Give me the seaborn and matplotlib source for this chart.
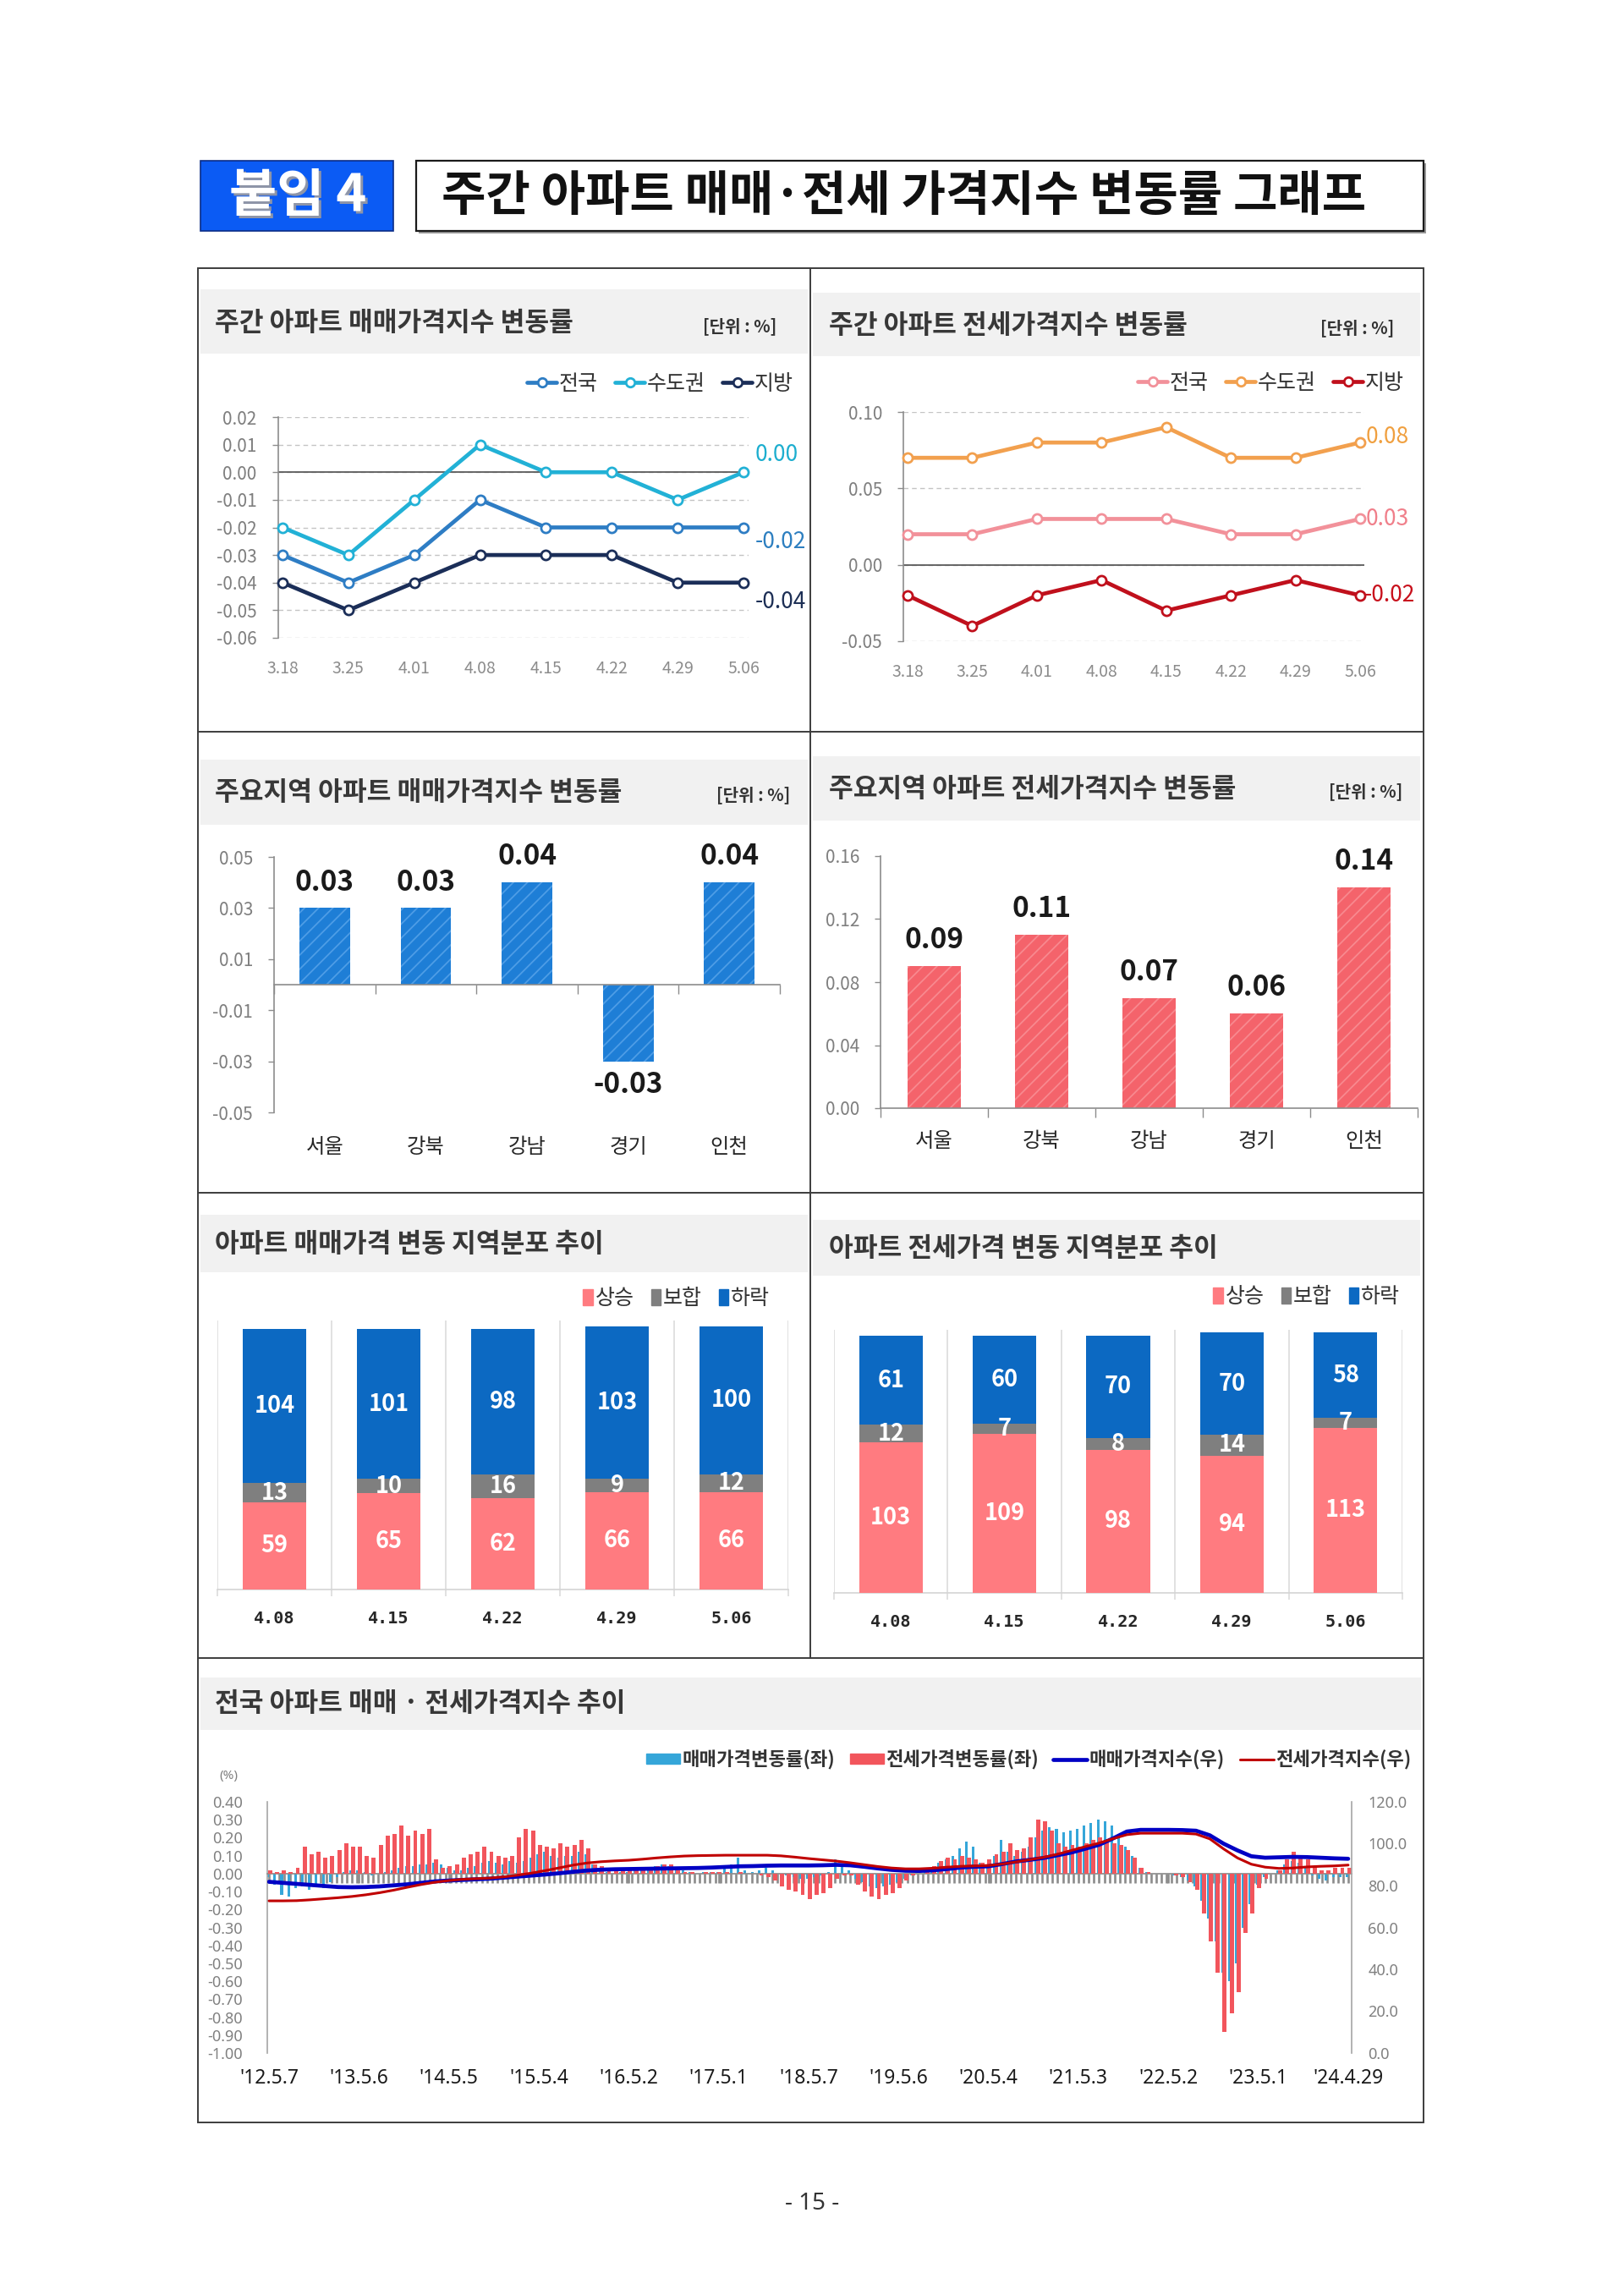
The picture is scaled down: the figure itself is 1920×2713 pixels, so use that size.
import numpy as np
import matplotlib
matplotlib.use('Agg')
import matplotlib.pyplot as plt
import seaborn as sns
from matplotlib.patches import Rectangle, Patch
from matplotlib.lines import Line2D
from matplotlib.ticker import FixedLocator, MultipleLocator, FormatStrFormatter
from matplotlib.font_manager import FontProperties

sns.set_theme(style='white')
plt.rcParams['font.family'] = ['Noto Sans CJK KR', 'DejaVu Sans']
plt.rcParams['axes.unicode_minus'] = False
plt.rcParams['hatch.linewidth'] = 1.3

KR = ['Noto Sans CJK KR', 'DejaVu Sans']
NUM = ['Liberation Sans Narrow', 'Noto Sans CJK KR', 'DejaVu Sans']
NS = ['Noto Sans', 'DejaVu Sans']
MONO = ['DejaVu Sans Mono', 'DejaVu Sans']

# ---------------- data ----------------
weeks = ['3.18', '3.25', '4.01', '4.08', '4.15', '4.22', '4.29', '5.06']
series_names = ['전국', '수도권', '지방']
sale_nation = [-0.03, -0.04, -0.03, -0.01, -0.02, -0.02, -0.02, -0.02]
sale_capital = [-0.02, -0.03, -0.01, 0.01, 0.00, 0.00, -0.01, 0.00]
sale_local = [-0.04, -0.05, -0.04, -0.03, -0.03, -0.03, -0.04, -0.04]
jeonse_nation = [0.02, 0.02, 0.03, 0.03, 0.03, 0.02, 0.02, 0.03]
jeonse_capital = [0.07, 0.07, 0.08, 0.08, 0.09, 0.07, 0.07, 0.08]
jeonse_local = [-0.02, -0.04, -0.02, -0.01, -0.03, -0.02, -0.01, -0.02]

regions = ['서울', '강북', '강남', '경기', '인천']
region_sale = [0.03, 0.03, 0.04, -0.03, 0.04]
region_jeonse = [0.09, 0.11, 0.07, 0.06, 0.14]

dist_weeks = ['4.08', '4.15', '4.22', '4.29', '5.06']
dist_names = ['상승', '보합', '하락']
sale_up = [59, 65, 62, 66, 66]
sale_flat = [13, 10, 16, 9, 12]
sale_down = [104, 101, 98, 103, 100]
jeonse_up = [103, 109, 98, 94, 113]
jeonse_flat = [12, 7, 8, 14, 7]
jeonse_down = [61, 60, 70, 70, 58]

long_labels = ["'12.5.7", "'13.5.6", "'14.5.5", "'15.5.4", "'16.5.2", "'17.5.1", "'18.5.7",
               "'19.5.6", "'20.5.4", "'21.5.3", "'22.5.2", "'23.5.1", "'24.4.29"]
long_names = ['매매가격변동률(좌)', '전세가격변동률(좌)', '매매가격지수(우)', '전세가격지수(우)']
rate_step = 4   # weeks between rate samples
idx_step = 8    # weeks between index samples
label_step = 52

# weekly change rate (%) sampled every 4 weeks from '12.5.7
sale_rate = [
    -0.02, -0.06, -0.12, -0.13, -0.08, -0.07, -0.09, -0.06, -0.08, -0.05, -0.02, 0.01, 0.02,
    0.02, 0.01, -0.01, 0.00, 0.01, 0.02, 0.03, 0.04, 0.04, 0.05, 0.05, 0.06, 0.05,
    0.03, 0.02, 0.02, 0.03, 0.04, 0.06, 0.07, 0.06, 0.05, 0.07, 0.06, 0.07, 0.09,
    0.11, 0.12, 0.10, 0.09, 0.10, 0.10, 0.12, 0.11, 0.05, 0.02, 0.01, 0.00, 0.01,
    0.01, 0.02, 0.02, 0.03, 0.04, 0.05, 0.04, 0.03, 0.02, 0.01, 0.00, 0.01, 0.01,
    0.01, 0.04, 0.05, 0.09, 0.02, 0.01, 0.02, 0.03, 0.02, 0.00, -0.01, -0.02, -0.03,
    -0.03, -0.02, -0.01, 0.01, 0.08, 0.05, 0.02, -0.03, -0.05, -0.07, -0.08, -0.07, -0.06,
    -0.05, -0.03, -0.01, 0.00, 0.01, 0.03, 0.06, 0.08, 0.10, 0.14, 0.18, 0.15, 0.06,
    0.05, 0.10, 0.19, 0.12, 0.10, 0.12, 0.15, 0.20, 0.24, 0.26, 0.25, 0.23, 0.24,
    0.25, 0.27, 0.28, 0.30, 0.29, 0.27, 0.22, 0.15, 0.10, 0.03, 0.01, 0.00, 0.00,
    0.00, -0.01, -0.02, -0.04, -0.07, -0.15, -0.25, -0.38, -0.55, -0.60, -0.50, -0.30, -0.17,
    -0.06, -0.02, 0.00, 0.02, 0.05, 0.07, 0.06, 0.03, -0.01, -0.03, -0.04, -0.02, -0.02, -0.02,
]
jeonse_rate = [
    0.02, 0.01, 0.02, 0.01, 0.03, 0.15, 0.11, 0.12, 0.09, 0.10, 0.13, 0.17, 0.15,
    0.15, 0.10, 0.09, 0.16, 0.21, 0.22, 0.27, 0.21, 0.24, 0.22, 0.25, 0.08, 0.03,
    0.04, 0.05, 0.09, 0.11, 0.12, 0.15, 0.12, 0.10, 0.09, 0.10, 0.20, 0.25, 0.24,
    0.16, 0.15, 0.14, 0.17, 0.15, 0.16, 0.19, 0.14, 0.05, 0.04, 0.03, 0.03, 0.02,
    0.02, 0.02, 0.02, 0.03, 0.04, 0.05, 0.05, 0.02, 0.01, 0.01, 0.00, 0.01, 0.01,
    0.01, 0.01, 0.00, 0.01, 0.00, 0.00, -0.01, -0.02, -0.04, -0.07, -0.09, -0.10, -0.12,
    -0.14, -0.12, -0.11, -0.08, -0.03, -0.01, -0.01, -0.06, -0.10, -0.13, -0.14, -0.12, -0.11,
    -0.08, -0.04, -0.01, 0.00, 0.01, 0.04, 0.07, 0.09, 0.08, 0.10, 0.09, 0.08, 0.06,
    0.08, 0.11, 0.12, 0.17, 0.13, 0.14, 0.20, 0.30, 0.29, 0.24, 0.17, 0.15, 0.16,
    0.15, 0.17, 0.19, 0.20, 0.18, 0.17, 0.16, 0.13, 0.09, 0.03, 0.01, 0.00, 0.00,
    0.00, -0.01, -0.02, -0.05, -0.09, -0.22, -0.38, -0.55, -0.88, -0.78, -0.66, -0.33, -0.22,
    -0.08, -0.03, 0.00, 0.02, 0.08, 0.12, 0.10, 0.08, 0.03, 0.02, 0.02, 0.03, 0.03, 0.03,
]
# price index sampled every 8 weeks
sale_idx = [
    81.8, 81.3, 80.8, 80.3, 79.8, 79.3, 79.2, 79.3, 79.6, 80.1, 80.6, 81.3, 82.0,
    82.4, 82.7, 83.0, 83.3, 83.8, 84.3, 84.8, 85.3, 85.9, 86.6, 87.2, 87.6, 87.8,
    87.9, 88.0, 88.1, 88.2, 88.3, 88.4, 88.6, 88.9, 89.2, 89.3, 89.5, 89.6, 89.6,
    89.6, 89.7, 89.9, 89.7, 89.0, 88.2, 87.5, 87.1, 87.0, 87.3, 87.9, 88.6, 89.0,
    89.2, 90.3, 91.5, 92.3, 93.2, 94.5, 95.8, 97.6, 99.5, 102.5, 105.8, 106.6, 106.6,
    106.6, 106.5, 106.2, 104.0, 100.0, 96.8, 94.0, 93.3, 93.5, 93.7, 93.6, 93.3, 93.0,
    92.8,
]
jeonse_idx = [
    72.7, 72.7, 72.8, 73.2, 73.7, 74.2, 74.8, 75.6, 76.6, 77.8, 79.2, 80.5, 81.6,
    82.4, 83.0, 83.3, 83.6, 84.2, 85.0, 86.0, 87.2, 88.5, 89.8, 90.8, 91.4, 91.8,
    92.1, 92.6, 93.2, 93.7, 94.1, 94.3, 94.4, 94.5, 94.5, 94.5, 94.5, 94.2, 93.6,
    92.9, 92.3, 91.7, 90.9, 90.0, 89.1, 88.4, 88.0, 88.0, 88.3, 88.8, 89.2, 89.4,
    89.6, 90.3, 91.3, 92.4, 93.5, 95.0, 96.8, 98.6, 100.3, 102.4, 104.3, 105.0, 105.0,
    105.0, 105.0, 104.6, 102.3, 97.5, 93.2, 90.2, 88.8, 88.2, 88.4, 88.9, 89.2, 89.4,
    89.8,
]

# ---------------- figure ----------------
W, H = 1920, 2713
fig = plt.figure(figsize=(W / 100, H / 100), dpi=100)
fig.patch.set_facecolor('white')


def px_rect(x0, y0, x1, y1):
    return [x0 / W, 1 - y1 / H, (x1 - x0) / W, (y1 - y0) / H]


def fpt(x, y):
    return (x / W, 1 - y / H)


def style_labels(labels, family, **kw):
    for t in labels:
        t.set_fontfamily(family)
        for k, v in kw.items():
            getattr(t, 'set_' + k)(v)


bg = fig.add_axes([0, 0, 1, 1])
bg.set_xlim(0, W)
bg.set_ylim(H, 0)
bg.axis('off')

# header
bg.add_patch(Rectangle((237, 190), 228, 83, fc='#0B5BF4', ec='#0A2C86', lw=1.2))
bg.text(355, 235, '붙임 4', ha='center', va='center', fontsize=44, fontweight='bold',
        color='#8E95A8', family=KR)
bg.text(352, 232, '붙임 4', ha='center', va='center', fontsize=44, fontweight='bold',
        color='white', family=KR)
bg.add_patch(Rectangle((495, 193), 1191, 83, fc='#9a9a9a', ec='none'))
bg.add_patch(Rectangle((492, 190), 1191, 83, fc='white', ec='#1a1a1a', lw=1.6))
bg.text(1069, 232, '주간 아파트 매매·전세 가격지수 변동률 그래프', ha='center', va='center',
        fontsize=41, fontweight='bold', color='#111111', family=KR)

# frame
bg.add_patch(Rectangle((234, 317), 1449, 2192, fill=False, ec='#3c3c3c', lw=1.4))
bg.plot([958, 958], [317, 1960], color='#3c3c3c', lw=1.4)
for yy in (865, 1410, 1960):
    bg.plot([234, 1683], [yy, yy], color='#3c3c3c', lw=1.4)

bands = [(237, 342, 955, 418), (961, 346, 1679, 421), (237, 898, 955, 975), (961, 894, 1679, 970),
         (237, 1436, 955, 1504), (961, 1442, 1679, 1508), (237, 1983, 1680, 2045)]
for x0, y0, x1, y1 in bands:
    bg.add_patch(Rectangle((x0, y0), x1 - x0, y1 - y0, fc='#F1F1F1', ec='none'))

titles = [(254, 382, '주간 아파트 매매가격지수 변동률'), (980, 385, '주간 아파트 전세가격지수 변동률'),
          (254, 937, '주요지역 아파트 매매가격지수 변동률'), (980, 933, '주요지역 아파트 전세가격지수 변동률'),
          (254, 1471, '아파트 매매가격 변동 지역분포 추이'), (980, 1476, '아파트 전세가격 변동 지역분포 추이'),
          (254, 2014, '전국 아파트 매매 · 전세가격지수 추이')]
for x, y, t in titles:
    bg.text(x, y, t, ha='left', va='center', fontsize=22.5, fontweight='bold', color='#383838', family=KR)
for x, y in [(918, 386), (1648, 388), (934, 940), (1658, 936)]:
    bg.text(x, y, '[단위 : %]', ha='right', va='center', fontsize=14.5, fontweight='bold',
            color='#333333', family=KR)

bg.text(270, 2099, '(%)', ha='center', va='center', fontsize=11, color='#808080', family=NS)
bg.text(960, 2605, '- 15 -', ha='center', va='center', fontsize=20, color='#333333', family=NS)


# ---------------- line panels ----------------
def line_panel(box, xlim, ylim, yticks, vals_list, colors, label_colors, offsets, leg_xy):
    ax = fig.add_axes(px_rect(*box))
    ax.set_facecolor('none')
    xs = np.arange(len(weeks))
    for vals, c in zip(vals_list, colors):
        sns.lineplot(x=xs, y=vals, ax=ax, color=c, lw=3.4, marker='o', markersize=8,
                     markerfacecolor='white', markeredgecolor=c, markeredgewidth=2,
                     clip_on=False, zorder=4)
    ax.set_xlim(*xlim)
    ax.set_ylim(*ylim)
    ax.set_yticks(yticks)
    ax.yaxis.set_major_formatter(FormatStrFormatter('%.2f'))
    ax.set_xticks(xs, weeks)
    ax.set_xlabel('')
    ax.set_ylabel('')
    ax.grid(True, axis='y', color='#c4c4c4', lw=1.0, linestyle=(0, (4, 3)))
    ax.grid(False, axis='x')
    ax.axhline(0, color='#5a5a5a', lw=1.3, zorder=2)
    for s in ['top', 'right', 'bottom']:
        ax.spines[s].set_visible(False)
    ax.spines['left'].set_color('#8c8c8c')
    ax.spines['left'].set_linewidth(1.2)
    ax.tick_params(axis='y', left=True, length=5, width=1, color='#8c8c8c', pad=13,
                   labelsize=15, labelcolor='#7f7f7f')
    ax.tick_params(axis='x', bottom=False, length=0, pad=19, labelsize=14, labelcolor='#8c8c8c')
    style_labels(ax.get_xticklabels() + ax.get_yticklabels(), NUM)
    for vals, lc, (dx, dy) in zip(vals_list, label_colors, offsets):
        ax.annotate(f'{vals[-1]:.2f}', xy=(len(vals) - 1, vals[-1]), xytext=(dx, dy),
                    textcoords='offset points', ha='left', va='center', fontsize=19,
                    color=lc, family=NUM, annotation_clip=False)
    handles = [Line2D([], [], color=c, lw=3.4, marker='o', ms=7.5, mfc='white', mec=c, mew=2)
               for c in colors]
    fig.legend(handles, series_names, loc='center right', bbox_to_anchor=fpt(*leg_xy), ncol=3,
               frameon=False, prop=FontProperties(family=KR, size=18), labelcolor='#333333',
               handlelength=1.4, handletextpad=0.12, columnspacing=0.8, borderpad=0,
               borderaxespad=0)
    return ax


line_panel((328.5, 493, 885, 754), (-0.07, 7.077), (-0.06, 0.02),
           np.round(np.arange(-6, 3) * 0.01, 2),
           [sale_nation, sale_capital, sale_local],
           ['#2E7DC4', '#22B1D6', '#1B2E58'], ['#2D7FC0', '#1DAECF', '#1D2F55'],
           [(10, -12), (10, 15), (10, -16.5)], (938, 454))

line_panel((1068, 487, 1613, 758), (-0.065, 7.065), (-0.05, 0.10),
           [-0.05, 0.0, 0.05, 0.10],
           [jeonse_nation, jeonse_capital, jeonse_local],
           ['#F2919A', '#F2A04E', '#C0101C'], ['#F07F8A', '#F0A040', '#C8101C'],
           [(5, 0), (5, 5), (3.5, 0)], (1660, 453))


# ---------------- region bar panels ----------------
def bar_panel(box, vals, ylim, yticks, face, hatch_c, zero_bottom, lab_off, cat_pad):
    ax = fig.add_axes(px_rect(*box))
    ax.set_facecolor('none')
    sns.barplot(x=regions, y=vals, ax=ax, color=face, saturation=1, width=0.5, errorbar=None)
    for p in ax.patches:
        p.set_hatch('//')
        p.set_edgecolor(hatch_c)
        p.set_linewidth(0)
    ax.set_xlim(-0.5, len(regions) - 0.5)
    ax.set_ylim(*ylim)
    ax.set_yticks(yticks)
    ax.yaxis.set_major_formatter(FormatStrFormatter('%.2f'))
    ax.set_xlabel('')
    ax.set_ylabel('')
    for s in ['top', 'right']:
        ax.spines[s].set_visible(False)
    for s in ['left', 'bottom']:
        ax.spines[s].set_color('#8c8c8c')
        ax.spines[s].set_linewidth(1.2)
    ax.spines['bottom'].set_position(('data', 0))
    ax.xaxis.set_minor_locator(FixedLocator(np.arange(len(regions) + 1) - 0.5))
    ax.tick_params(axis='x', which='minor', bottom=True, length=8, width=1, color='#8c8c8c',
                   direction='out')
    ax.tick_params(axis='y', left=True, length=5, width=1, color='#8c8c8c', pad=13,
                   labelsize=15, labelcolor='#7f7f7f')
    style_labels(ax.get_yticklabels(), NUM)
    if zero_bottom:
        ax.tick_params(axis='x', which='major', length=0, pad=cat_pad, labelsize=17.5,
                       labelcolor='#262626')
        style_labels(ax.get_xticklabels(), KR)
    else:
        ax.tick_params(axis='x', which='major', length=0, labelbottom=False)
        sec = ax.secondary_xaxis('bottom')
        sec.set_xticks(np.arange(len(regions)), labels=regions)
        sec.spines['bottom'].set_visible(False)
        sec.tick_params(axis='x', length=0, pad=cat_pad, labelsize=17.5, labelcolor='#262626')
        style_labels(sec.get_xticklabels(), KR)
    for i, v in enumerate(vals):
        ax.annotate(f'{v:.2f}', xy=(i, v), xytext=(0, lab_off if v > 0 else -lab_off * 0.8),
                    textcoords='offset points', ha='center', va='bottom' if v > 0 else 'top',
                    fontsize=24, fontweight='bold', color='#1a1a1a', family=NUM,
                    annotation_clip=False)
    return ax


bar_panel((324, 1013, 922, 1315), region_sale, (-0.05, 0.05),
          [-0.05, -0.03, -0.01, 0.01, 0.03, 0.05], '#1E7ED6', '#4E9DE6', False, 10, 20)
bar_panel((1041, 1012, 1676, 1310), region_jeonse, (0.0, 0.16),
          [0.0, 0.04, 0.08, 0.12, 0.16], '#F4636B', '#F8898F', True, 10, 19)


# ---------------- stacked distribution panels ----------------
C_UP, C_FLAT, C_DOWN = '#FF7B80', '#7F7F7F', '#0C69C2'


def stack_panel(box, up, flat, down, ytop, leg_xy):
    ax = fig.add_axes(px_rect(*box))
    ax.set_facecolor('none')
    x = np.arange(len(dist_weeks))
    b1 = ax.bar(x, up, width=0.56, color=C_UP, lw=0, zorder=3)
    b2 = ax.bar(x, flat, bottom=up, width=0.56, color=C_FLAT, lw=0, zorder=3)
    b3 = ax.bar(x, down, bottom=np.add(up, flat), width=0.56, color=C_DOWN, lw=0, zorder=3)
    for b in (b1, b2, b3):
        ax.bar_label(b, label_type='center', color='white', fontsize=19.5, fontweight='bold',
                     family=NUM)
    ax.set_xlim(-0.5, len(dist_weeks) - 0.5)
    ax.set_ylim(0, ytop)
    ax.set_yticks([])
    ax.set_xticks(x, dist_weeks)
    ax.xaxis.set_minor_locator(FixedLocator(np.arange(len(dist_weeks) + 1) - 0.5))
    ax.grid(True, which='minor', axis='x', color='#dcdcdc', lw=1.2)
    ax.grid(False, which='major')
    for s in ['top', 'right', 'left']:
        ax.spines[s].set_visible(False)
    ax.spines['bottom'].set_color('#d4d4d4')
    ax.spines['bottom'].set_linewidth(1.2)
    ax.tick_params(axis='x', which='minor', bottom=True, length=6, width=1.2, color='#dcdcdc')
    ax.tick_params(axis='x', which='major', length=0, pad=18, labelsize=14.5, labelcolor='#262626')
    style_labels(ax.get_xticklabels(), MONO, fontweight='bold')
    handles = [Patch(color=c) for c in (C_UP, C_FLAT, C_DOWN)]
    fig.legend(handles, dist_names, loc='center right', bbox_to_anchor=fpt(*leg_xy), ncol=3,
               frameon=False, prop=FontProperties(family=KR, size=18), labelcolor='#333333',
               handlelength=0.45, handleheight=0.8, handletextpad=0.12, columnspacing=0.8,
               borderpad=0, borderaxespad=0)
    return ax


stack_panel((257, 1561, 932, 1879), sale_up, sale_flat, sale_down, 182, (910, 1535))
stack_panel((986, 1572, 1658, 1883), jeonse_up, jeonse_flat, jeonse_down, 180, (1655, 1533))

# ---------------- long-term combo chart ----------------
C_SR, C_JR, C_SI, C_JI = '#35A6D9', '#F2555C', '#0000C4', '#C00000'
ax = fig.add_axes(px_rect(316, 2130, 1598, 2427))
ax.set_facecolor('none')
xr = np.arange(len(sale_rate)) * rate_step
ax.bar(xr - 0.7, sale_rate, width=1.5, color=C_SR, lw=0, zorder=2)
ax.bar(xr + 0.6, jeonse_rate, width=2.4, color=C_JR, lw=0, zorder=3)
ax.set_xlim(-1, 626)
ax.set_ylim(-1.0, 0.4)
ax.set_yticks(np.round(np.arange(-10, 5) * 0.1, 2))
ax.yaxis.set_major_formatter(FormatStrFormatter('%.2f'))
for s in ['top', 'right']:
    ax.spines[s].set_visible(False)
ax.spines['left'].set_color('#a6a6a6')
ax.spines['left'].set_linewidth(1.2)
ax.spines['bottom'].set_position(('data', 0))
ax.spines['bottom'].set_color('#8c8c8c')
tick_pos = np.arange(len(long_labels)) * label_step
ax.xaxis.set_major_locator(FixedLocator(tick_pos))
ax.xaxis.set_minor_locator(MultipleLocator(3))
ax.tick_params(axis='x', which='both', bottom=True, length=8, width=1.9, color='#8c8c8c',
               direction='out', labelbottom=False)
ax.tick_params(axis='y', left=False, length=0, pad=21, labelsize=13, labelcolor='#808080')
style_labels(ax.get_yticklabels(), NS)
sec = ax.secondary_xaxis('bottom')
sec.set_xticks(tick_pos, labels=long_labels)
sec.spines['bottom'].set_visible(False)
sec.tick_params(axis='x', length=0, pad=13, labelsize=16.5, labelcolor='#1a1a1a')
style_labels(sec.get_xticklabels(), NS, fontweight='bold')

ax2 = ax.twinx()
xi = np.arange(len(sale_idx)) * idx_step
sns.lineplot(x=xi, y=sale_idx, ax=ax2, color=C_SI, lw=3.4)
sns.lineplot(x=np.arange(len(jeonse_idx)) * idx_step, y=jeonse_idx, ax=ax2, color=C_JI, lw=2.2)
ax2.set_ylim(0, 120)
ax2.set_xlim(-1, 626)
ax2.set_yticks(np.arange(0, 121, 20))
ax2.yaxis.set_major_formatter(FormatStrFormatter('%.1f'))
ax2.set_ylabel('')
for s in ['top', 'left', 'bottom']:
    ax2.spines[s].set_visible(False)
ax2.spines['right'].set_color('#a6a6a6')
ax2.spines['right'].set_linewidth(1.2)
ax2.tick_params(axis='y', right=True, length=0, pad=14, labelsize=13, labelcolor='#808080')
style_labels(ax2.get_yticklabels(), NS)

handles = [Patch(color=C_SR), Patch(color=C_JR), Line2D([], [], color=C_SI, lw=3.4),
           Line2D([], [], color=C_JI, lw=2.2)]
fig.legend(handles, long_names, loc='center right', bbox_to_anchor=fpt(1668, 2080), ncol=4,
           frameon=False, prop=FontProperties(family=KR, size=16, weight='bold'),
           labelcolor='#333333', handlelength=1.8, handleheight=0.5, handletextpad=0.1,
           columnspacing=0.8, borderpad=0, borderaxespad=0)

fig.savefig('out.png', dpi=100, facecolor='white')
